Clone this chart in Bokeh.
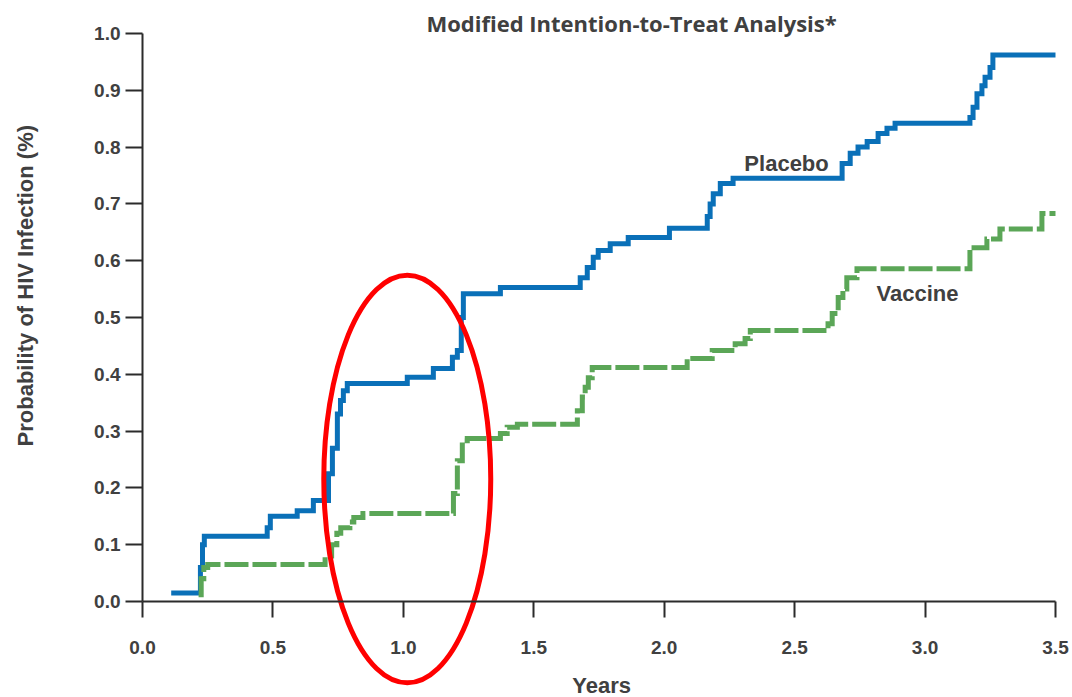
import math
from bokeh.plotting import figure
from bokeh.models import Range1d, FixedTicker, Label, PrintfTickFormatter
from bokeh.embed import file_html
from bokeh.resources import INLINE

# ---- data ----
placebo_years = [0.11, 0.222, 0.230, 0.237, 0.478, 0.490, 0.593, 0.655, 0.713, 0.728, 0.747,
                 0.759, 0.770, 0.785, 1.015, 1.115, 1.188, 1.207, 1.222, 1.230, 1.372, 1.678,
                 1.705, 1.728, 1.747, 1.793, 1.862, 2.020, 2.165, 2.176, 2.188, 2.215, 2.264,
                 2.682, 2.713, 2.743, 2.778, 2.820, 2.854, 2.885, 3.172, 3.184, 3.199, 3.218,
                 3.230, 3.249, 3.260, 3.500]
placebo_prob = [0.015, 0.060, 0.100, 0.115, 0.130, 0.150, 0.160, 0.178, 0.225, 0.270, 0.330,
                0.354, 0.371, 0.384, 0.395, 0.410, 0.430, 0.442, 0.500, 0.542, 0.553, 0.570,
                0.588, 0.606, 0.618, 0.630, 0.641, 0.657, 0.678, 0.700, 0.718, 0.736, 0.745,
                0.771, 0.789, 0.800, 0.810, 0.824, 0.833, 0.842, 0.852, 0.870, 0.894, 0.908,
                0.923, 0.940, 0.962, 0.962]

vaccine_years = [0.215, 0.225, 0.235, 0.250, 0.700, 0.725, 0.745, 0.760, 0.795, 0.810, 0.845,
                 1.192, 1.207, 1.226, 1.245, 1.372, 1.398, 1.437, 1.667, 1.686, 1.697, 1.709,
                 1.724, 2.088, 2.184, 2.272, 2.310, 2.330, 2.628, 2.644, 2.667, 2.685, 2.700,
                 2.739, 3.172, 3.237, 3.287, 3.448, 3.500]
vaccine_prob = [0.012, 0.040, 0.060, 0.065, 0.080, 0.100, 0.120, 0.130, 0.140, 0.148, 0.155,
                0.190, 0.248, 0.283, 0.287, 0.296, 0.307, 0.312, 0.336, 0.360, 0.377, 0.394,
                0.412, 0.428, 0.442, 0.454, 0.463, 0.477, 0.489, 0.507, 0.535, 0.550, 0.570,
                0.586, 0.623, 0.638, 0.656, 0.683, 0.683]

x_ticks = [0.0, 0.5, 1.0, 1.5, 2.0, 2.5, 3.0, 3.5]
y_ticks = [0.0, 0.1, 0.2, 0.3, 0.4, 0.5, 0.6, 0.7, 0.8, 0.9, 1.0]

title_text = "Modified Intention-to-Treat Analysis*"
x_title = "Years"
y_title = "Probability of HIV Infection (%)"
series_names = ["Placebo", "Vaccine"]

# highlight ellipse (annotation)
ellipse_cx, ellipse_cy, ellipse_w, ellipse_h = 1.015, 0.2157, 0.64, 0.718

# ---- style ----
BLUE = "#0A70B8"
GREEN = "#5BA657"
RED = "#FF0000"
TXT = "#404040"
AX = "#2b2b2b"
FONT = "Liberation Sans"

# the frame covers the whole canvas; axes are pinned at x=0 / y=0
p = figure(width=1072, height=697, output_backend="svg", toolbar_location=None,
           x_range=Range1d(-0.5444, 3.5652), y_range=Range1d(-0.1690, 1.0581),
           min_border_left=0, min_border_right=0, min_border_top=0, min_border_bottom=0)
p.outline_line_color = None
p.grid.visible = False
p.background_fill_color = "white"
p.border_fill_color = "white"

xa = p.xaxis[0]
xa.fixed_location = 0
xa.bounds = (0, 3.5)
xa.ticker = FixedTicker(ticks=x_ticks)
xa.formatter = PrintfTickFormatter(format="%.1f")
xa.major_tick_in = 0
xa.major_tick_out = 16
xa.minor_tick_line_color = None
xa.axis_line_color = AX
xa.axis_line_width = 2
xa.major_tick_line_color = AX
xa.major_tick_line_width = 2
xa.major_label_standoff = 23
xa.major_label_text_font = FONT
xa.major_label_text_font_style = "bold"
xa.major_label_text_font_size = "19px"
xa.major_label_text_color = TXT

ya = p.yaxis[0]
ya.fixed_location = 0
ya.bounds = (0, 1)
ya.ticker = FixedTicker(ticks=y_ticks)
ya.formatter = PrintfTickFormatter(format="%.1f")
ya.major_tick_in = 0
ya.major_tick_out = 17
ya.minor_tick_line_color = None
ya.axis_line_color = AX
ya.axis_line_width = 2
ya.major_tick_line_color = AX
ya.major_tick_line_width = 2
ya.major_label_standoff = 5
ya.major_label_text_font = FONT
ya.major_label_text_font_style = "bold"
ya.major_label_text_font_size = "19px"
ya.major_label_text_color = TXT

# curves
p.step(x=placebo_years, y=placebo_prob, mode="after", line_width=5, line_color=BLUE,
       line_join="miter")
p.step(x=vaccine_years, y=vaccine_prob, mode="after", line_width=5, line_color=GREEN,
       line_join="miter", line_dash="24 4")

# highlight ellipse
p.ellipse(x=[ellipse_cx], y=[ellipse_cy], width=ellipse_w, height=ellipse_h,
          fill_color=None, line_color=RED, line_width=5)

# texts
p.add_layout(Label(x=1.875, y=1.019, text=title_text, text_align="center",
                   text_baseline="middle", text_font="Open Sans", text_font_style="bold",
                   text_font_size="22px", text_color=TXT))
p.add_layout(Label(x=1.76, y=-0.148, text=x_title, text_align="center",
                   text_baseline="middle", text_font=FONT, text_font_style="bold",
                   text_font_size="22px", text_color=TXT))
p.add_layout(Label(x=-0.45, y=0.556, text=y_title, angle=math.pi / 2,
                   text_align="center", text_baseline="middle", text_font=FONT,
                   text_font_style="bold", text_font_size="22px", text_color=TXT))
p.add_layout(Label(x=2.469, y=0.771, text=series_names[0], text_align="center",
                   text_baseline="middle", text_font=FONT, text_font_style="bold",
                   text_font_size="22px", text_color=TXT))
p.add_layout(Label(x=2.971, y=0.542, text=series_names[1], text_align="center",
                   text_baseline="middle", text_font=FONT, text_font_style="bold",
                   text_font_size="22px", text_color=TXT))

open("out.html", "w").write(file_html(p, INLINE))
